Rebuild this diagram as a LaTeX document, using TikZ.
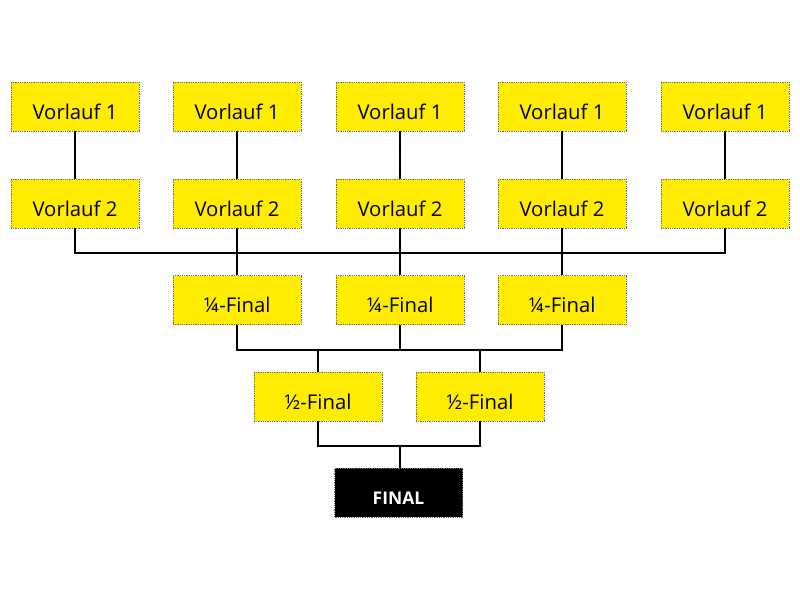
\documentclass[tikz,border=0pt]{standalone}
\usepackage{fontspec}
\setmainfont{Open Sans}
\definecolor{boxyellow}{RGB}{255,236,0}
\definecolor{dotgrey}{RGB}{110,110,110}
\begin{document}
\begin{tikzpicture}[x=1pt,y=-1pt,
  heat/.style={fill=boxyellow,draw=dotgrey,densely dotted,line width=0.8pt,minimum width=128pt,minimum height=49pt,inner sep=0pt,text height=25.6pt,text depth=0pt,font=\fontsize{20.3}{22}\selectfont},
  finalbox/.style={fill=black,draw=dotgrey,densely dotted,line width=0.8pt,minimum width=128pt,minimum height=49pt,inner sep=0pt,text height=24.4pt,text depth=0pt,text=white,font=\fontsize{17.5}{19}\selectfont\bfseries},
  link/.style={draw=black,line width=2.8pt}]
\useasboundingbox (0,0) rectangle (800,600);
\foreach \i/\x in {1/75,2/237,3/400,4/562,5/725}{
  \node[heat] (a\i) at (\x,106.5) {Vorlauf 1};
  \node[heat] (b\i) at (\x,203.5) {Vorlauf 2};
}
\node[heat] (q1) at (237,300) {¼-Final};
\node[heat] (q2) at (400,300) {¼-Final};
\node[heat] (q3) at (562,300) {¼-Final};
\node[heat] (h1) at (318,396.5) {½-Final};
\node[heat] (h2) at (480,396.5) {½-Final};
\node[finalbox] (f) at (398.5,492.5) {FINAL};
\coordinate (r1) at (0,253);
\coordinate (r2) at (0,350);
\coordinate (r3) at (0,446);
\coordinate (fc) at (400,468);
\begin{scope}[on background layer/.try]
\foreach \i in {1,...,5}{\draw[link] (a\i.south) -- (b\i.north);}
\draw[link] (b1.south) |- (b5.south |- r1) -- (b5.south);
\draw[link] (b2.south) -- (q1.north);
\draw[link] (b3.south) -- (q2.north);
\draw[link] (b4.south) -- (q3.north);
\draw[link] (q1.south) |- (q3.south |- r2) -- (q3.south);
\draw[link] (q2.south) -- (q2.south |- r2);
\draw[link] (h1.north) -- (h1.north |- r2);
\draw[link] (h2.north) -- (h2.north |- r2);
\draw[link] (h1.south) |- (h2.south |- r3) -- (h2.south);
\draw[link] (fc) -- (fc |- r3);
\end{scope}
\end{tikzpicture}
\end{document}
